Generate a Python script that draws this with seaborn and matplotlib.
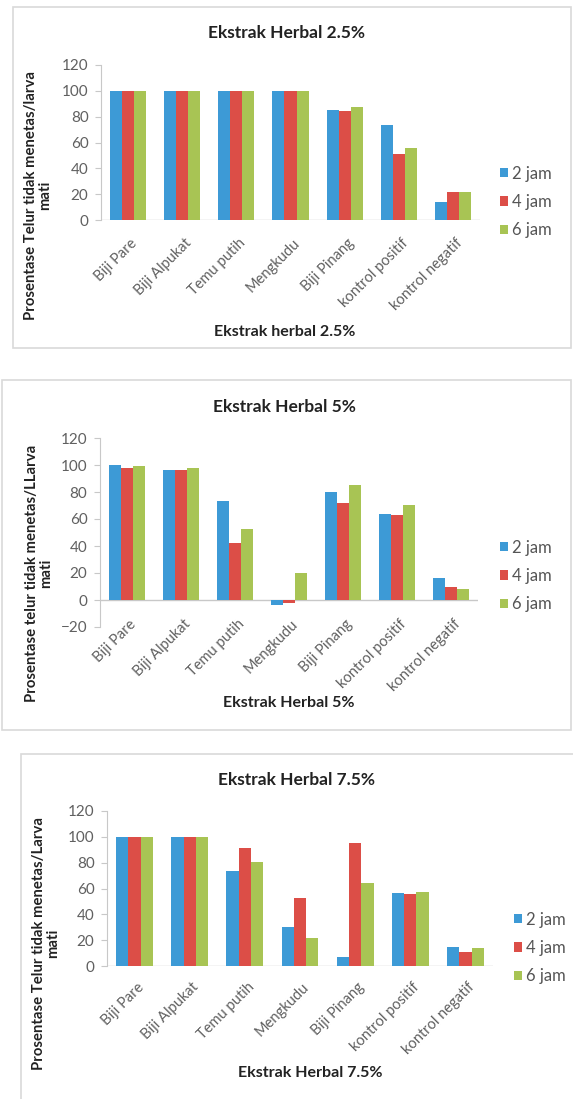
import matplotlib
matplotlib.use("Agg")
import matplotlib.pyplot as plt
import matplotlib.transforms as mtrans
from matplotlib.patches import Rectangle
import seaborn as sns
import pandas as pd

# data
kategori = ["Biji Pare", "Biji Alpukat", "Temu putih", "Mengkudu",
            "Biji Pinang", "kontrol positif", "kontrol negatif"]
waktu = ["2 jam", "4 jam", "6 jam"]

h25_2jam = [100, 100, 100, 100, 85, 73.5, 14]
h25_4jam = [100, 100, 100, 100, 84.5, 51, 21.5]
h25_6jam = [100, 100, 100, 100, 87.5, 55.5, 21.5]

h5_2jam = [100, 96.5, 73.5, -4, 80, 63.5, 16.5]
h5_4jam = [97.5, 96.5, 42.5, -2, 72, 63, 9.5]
h5_6jam = [99, 97.5, 52.5, 20, 85.5, 70.5, 8]

h75_2jam = [100, 100, 73.5, 30, 7, 56.5, 15]
h75_4jam = [100, 100, 91.5, 52.5, 95, 55.5, 10.5]
h75_6jam = [100, 100, 80.5, 21.5, 64, 57, 14]

judul = ["Ekstrak Herbal 2.5%", "Ekstrak Herbal 5%", "Ekstrak Herbal 7.5%"]
xlabel = ["Ekstrak herbal 2.5%", "Ekstrak Herbal 5%", "Ekstrak Herbal 7.5%"]
ylabel = ["Prosentase Telur tidak menetas/larva\nmati",
          "Prosentase telur tidak menetas/LLarva\nmati",
          "Prosentase Telur tidak menetas/Larva\nmati"]
ylims = [(0, 120), (-20, 120), (0, 120)]

warna = ["#3d9ad6", "#dc4e47", "#a8c454"]

sns.set_style("white")
plt.rcParams["font.family"] = ["Lato", "DejaVu Sans"]

W, H = 573, 1099
fig = plt.figure(figsize=(W / 100, H / 100), dpi=100)

def fx(px):
    return px / W

def fy(py):
    return 1 - py / H

# layout per panel (pixels): axes box, border box, text positions,
# distance of the category labels below the axes bottom
panel = [
    dict(ax=(101, 65, 480, 220), box=(13, 7, 571, 348), title=(286, 33),
         xl=(285, 332), yl=(38, 195), leg=(500, 202), turun=16),
    dict(ax=(100, 438, 478, 627), box=(2, 380, 571, 730), title=(284, 407),
         xl=(289, 703), yl=(39, 573), leg=(500, 576), turun=-10),
    dict(ax=(107, 811, 493, 966), box=(21, 754, 575, 1101), title=(297, 780),
         xl=(310, 1073), yl=(46, 943), leg=(514, 948), turun=14),
]

series = [(h25_2jam, h25_4jam, h25_6jam),
          (h5_2jam, h5_4jam, h5_6jam),
          (h75_2jam, h75_4jam, h75_6jam)]

for i, p in enumerate(panel):
    rows = []
    for w, vals in zip(waktu, series[i]):
        for k, v in zip(kategori, vals):
            rows.append({"kategori": k, "waktu": w, "nilai": v})
    df = pd.DataFrame(rows)

    x0, y0, x1, y1 = p["ax"]
    ax = fig.add_axes([fx(x0), fy(y1), fx(x1 - x0), (y1 - y0) / H])
    sns.barplot(data=df, x="kategori", y="nilai", hue="waktu", palette=warna,
                width=0.67, saturation=1, ax=ax, errorbar=None, linewidth=0)
    ax.set_ylim(*ylims[i])
    ax.set_yticks(range(ylims[i][0], 121, 20))
    ax.set_xlim(-0.5, len(kategori) - 0.5)
    ax.set_xlabel("")
    ax.set_ylabel("")
    for s in ["top", "right", "bottom"]:
        ax.spines[s].set_visible(False)
    ax.spines["left"].set_color("#c8c8c8")
    ax.axhline(0, color="#c8c8c8", lw=1, zorder=0)
    ax.tick_params(axis="y", colors="#c8c8c8", labelcolor="#606060",
                   labelsize=11, length=4, direction="out", left=True, pad=5)

    # category labels, rotated, hanging from the axes bottom
    ax.set_xticks(range(len(kategori)))
    ax.set_xticklabels([])
    ax.tick_params(axis="x", length=0)
    trans = mtrans.blended_transform_factory(ax.transData, ax.transAxes)
    trans = trans + mtrans.ScaledTranslation(2 / 100, -p["turun"] / 100,
                                             fig.dpi_scale_trans)
    for j, k in enumerate(kategori):
        ax.text(j, 0, k, transform=trans, rotation=45, ha="right", va="top",
                rotation_mode="anchor", fontsize=10.5, color="#606060")

    handles, labels = ax.get_legend_handles_labels()
    ax.legend(handles, labels, loc="center left", frameon=False,
              bbox_to_anchor=(fx(p["leg"][0]), fy(p["leg"][1])),
              bbox_transform=fig.transFigure, fontsize=12,
              handlelength=0.5, handleheight=0.5, handletextpad=0.25,
              labelspacing=0.75, labelcolor="#555555", borderpad=0,
              borderaxespad=0)

    fig.text(fx(p["title"][0]), fy(p["title"][1]), judul[i], ha="center",
             va="center", fontsize=12.5, fontweight="bold", color="#222222")
    fig.text(fx(p["xl"][0]), fy(p["xl"][1]), xlabel[i], ha="center",
             va="center", fontsize=11.5, fontweight="bold", color="#222222")
    fig.text(fx(p["yl"][0]), fy(p["yl"][1]), ylabel[i], ha="center",
             va="center", rotation=90, fontsize=10.7, fontweight="bold",
             color="#222222", linespacing=1.0)

    bx0, by0, bx1, by1 = p["box"]
    fig.add_artist(Rectangle((fx(bx0), fy(by1)), fx(bx1 - bx0), (by1 - by0) / H,
                             transform=fig.transFigure, fill=False,
                             edgecolor="#d9d9d9", lw=1.2))

fig.savefig("out.png", dpi=100)
